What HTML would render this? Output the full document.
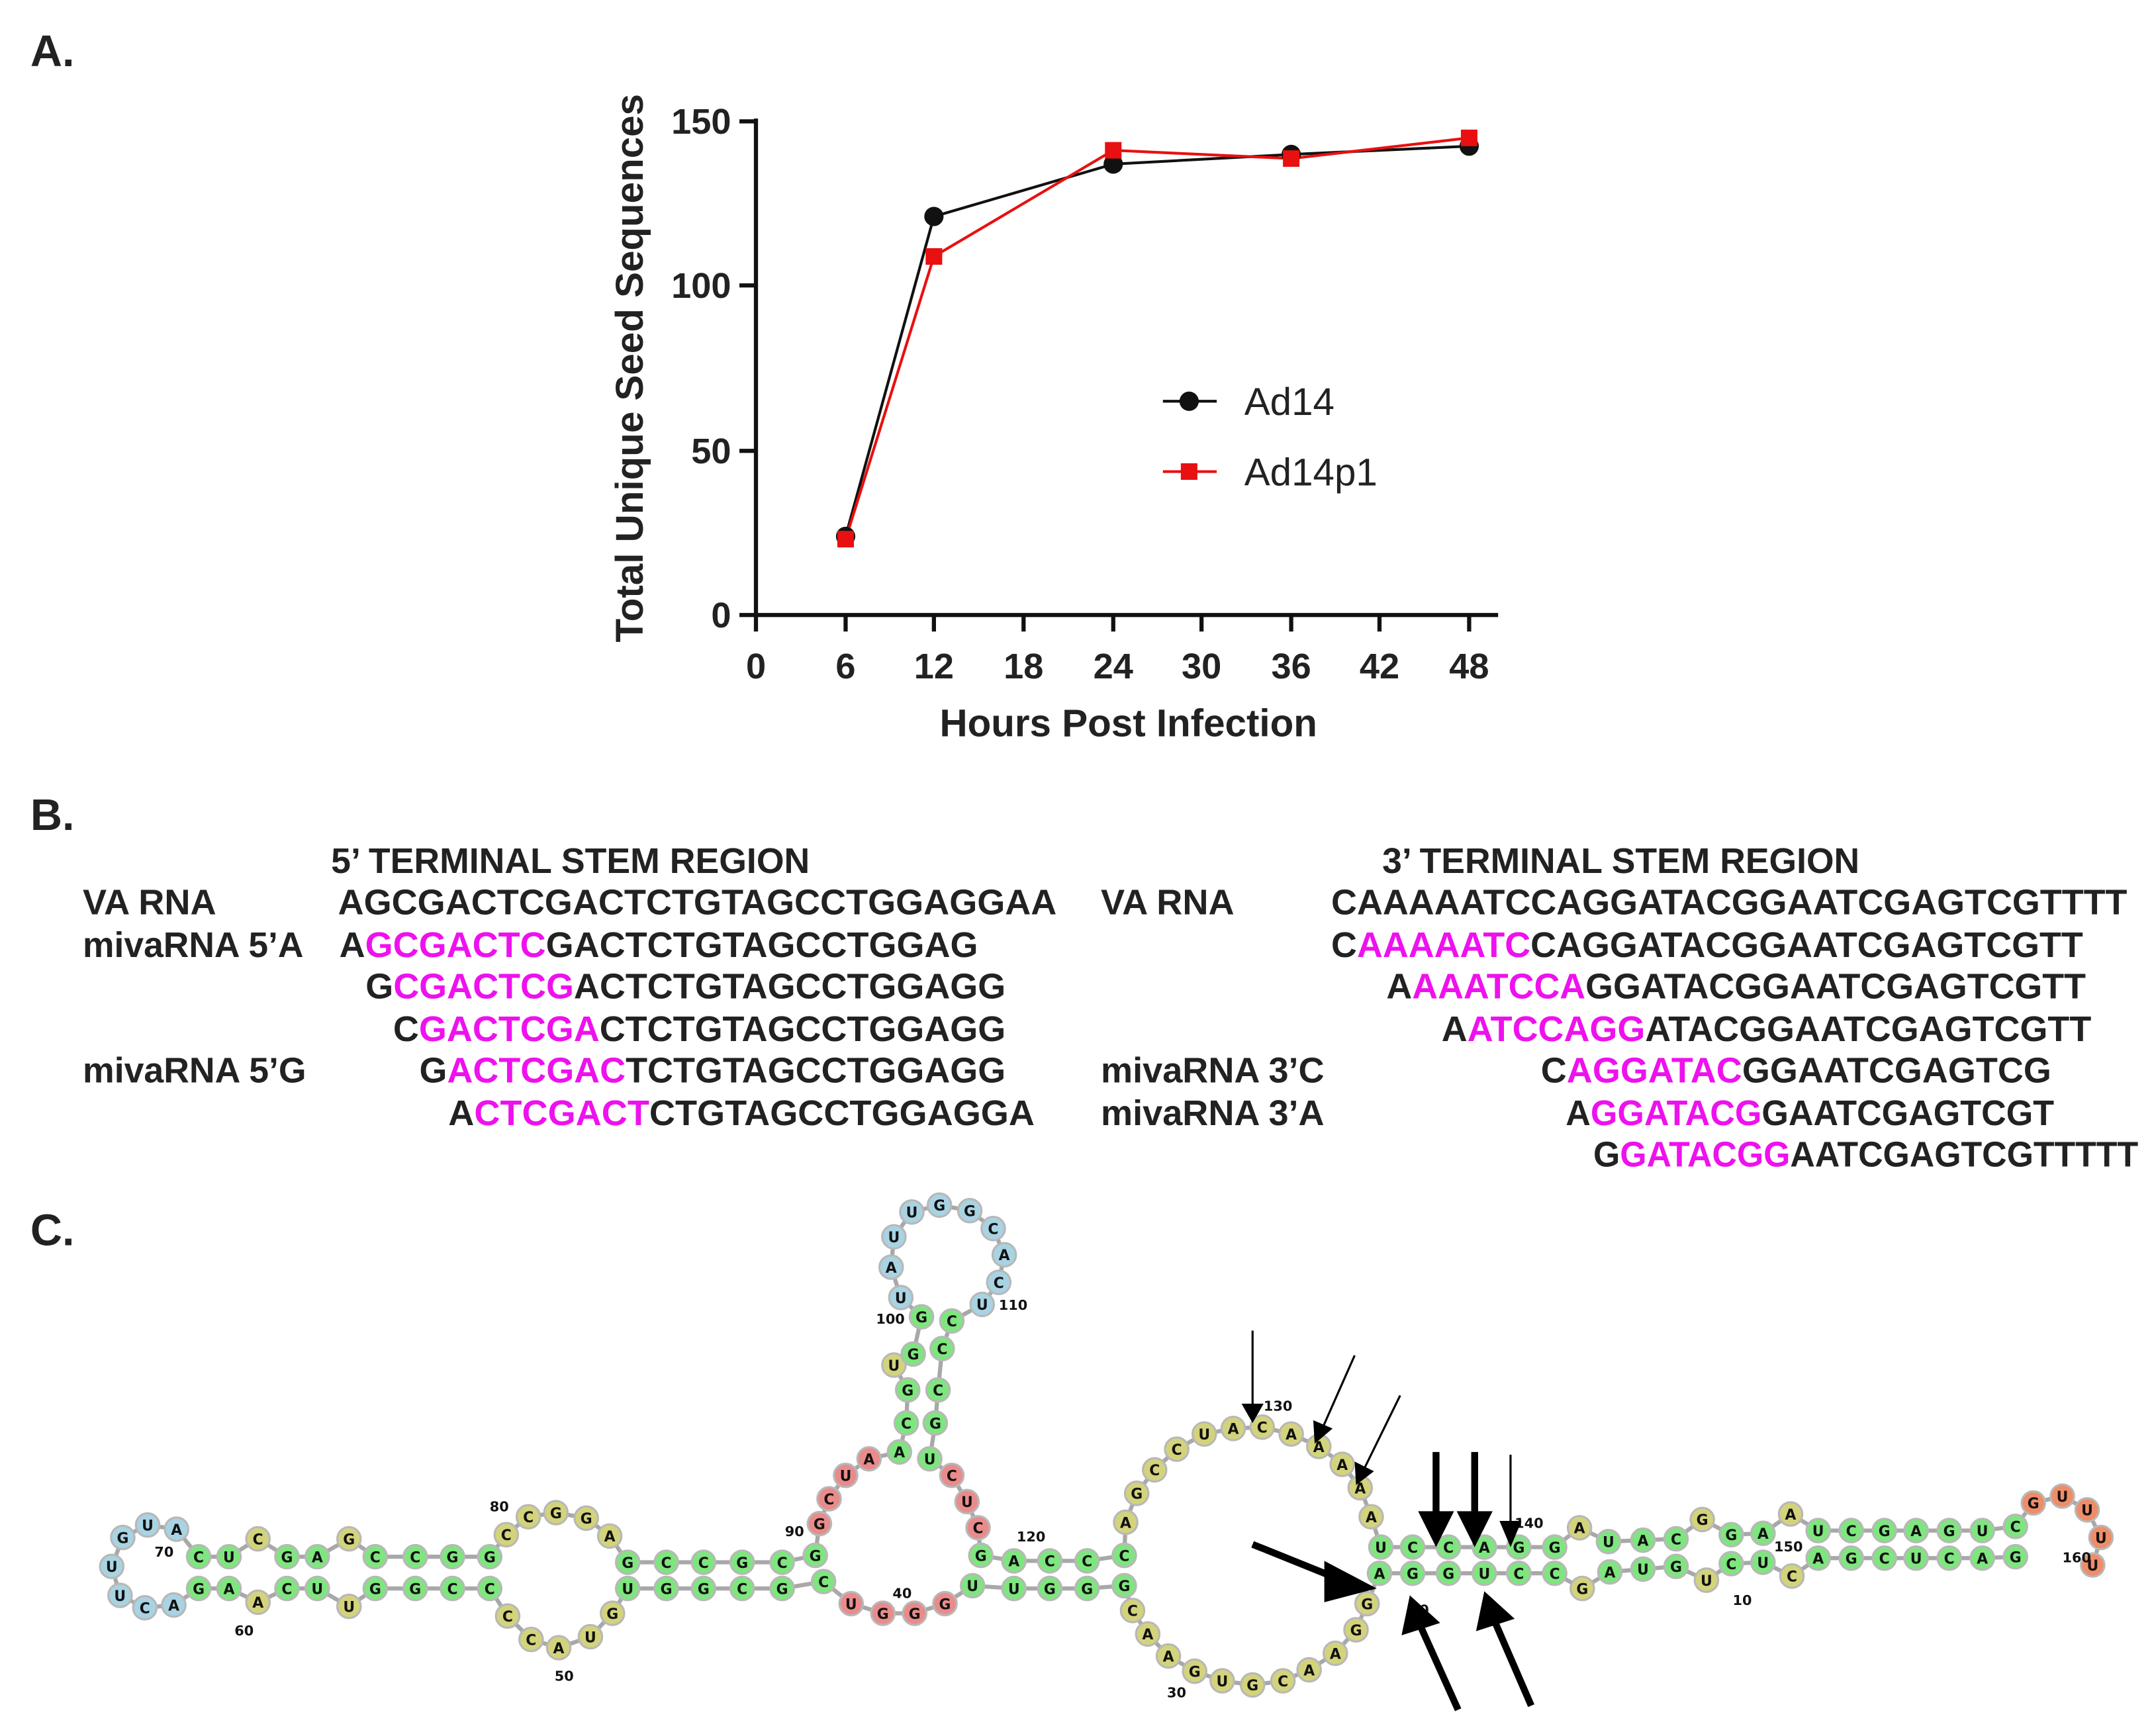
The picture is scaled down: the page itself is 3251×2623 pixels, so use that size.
<!DOCTYPE html>
<html><head><meta charset="utf-8"><style>
html,body{margin:0;padding:0;background:#fff}
svg{display:block}
.t{font-family:"Liberation Sans",sans-serif;font-weight:bold;fill:#222}
.s{font-family:"Liberation Sans",sans-serif;font-weight:bold;fill:#222;font-size:26px}
.m{fill:#ee11ee}
.n circle{stroke:#b8b8b8;stroke-width:1.5}
.n text{font-family:"DejaVu Sans","Liberation Sans",sans-serif;font-weight:bold;font-size:10.5px;text-anchor:middle;fill:#111}
.g{fill:#7fe57f}.y{fill:#d3d37c}.b{fill:#a8d3e2}.r{fill:#ea8b8b}.o{fill:#ee8d68}
.nl{font-family:"DejaVu Sans",sans-serif;font-weight:bold;font-size:10px;fill:#111}
</style></head><body>
<svg width="3251" height="2623" viewBox="0 0 1560 1259" preserveAspectRatio="none" xmlns="http://www.w3.org/2000/svg">
<text class="t" x="22" y="48" font-size="32">A.</text>
<text class="t" x="22" y="602" font-size="32">B.</text>
<text class="t" x="22" y="903" font-size="32">C.</text>

<g stroke="#111" stroke-width="3" fill="none">
<line x1="548" y1="86" x2="548" y2="447"/>
<line x1="547" y1="446" x2="1086" y2="446"/>
<line x1="536" y1="88" x2="548" y2="88"/><line x1="536" y1="207" x2="548" y2="207"/>
<line x1="536" y1="327" x2="548" y2="327"/><line x1="536" y1="446" x2="548" y2="446"/>
<line x1="548" y1="446" x2="548" y2="458"/><line x1="613" y1="446" x2="613" y2="458"/>
<line x1="677" y1="446" x2="677" y2="458"/><line x1="742" y1="446" x2="742" y2="458"/>
<line x1="807" y1="446" x2="807" y2="458"/><line x1="871" y1="446" x2="871" y2="458"/>
<line x1="936" y1="446" x2="936" y2="458"/><line x1="1000" y1="446" x2="1000" y2="458"/>
<line x1="1065" y1="446" x2="1065" y2="458"/>
</g>
<g class="t" font-size="26" text-anchor="end">
<text x="530" y="97">150</text><text x="530" y="216">100</text><text x="530" y="336">50</text><text x="530" y="455">0</text>
</g>
<g class="t" font-size="26" text-anchor="middle">
<text x="548" y="492">0</text><text x="613" y="492">6</text><text x="677" y="492">12</text><text x="742" y="492">18</text>
<text x="807" y="492">24</text><text x="871" y="492">30</text><text x="936" y="492">36</text><text x="1000" y="492">42</text><text x="1065" y="492">48</text>
<text x="818" y="534" font-size="28">Hours Post Infection</text>
<text transform="translate(466,267) rotate(-90)" font-size="28">Total Unique Seed Sequences</text>
</g>
<polyline points="613,389 677,157 807,119 936,112 1065,106" fill="none" stroke="#111" stroke-width="2"/>
<polyline points="613,391 677,186 807,109 936,115 1065,100" fill="none" stroke="#e81010" stroke-width="2"/>
<g fill="#111"><circle cx="613" cy="389" r="7"/><circle cx="677" cy="157" r="7"/><circle cx="807" cy="119" r="7"/><circle cx="936" cy="112" r="7"/><circle cx="1065" cy="106" r="7"/></g>
<g fill="#e81010"><rect x="607" y="385" width="12" height="12"/><rect x="671" y="180" width="12" height="12"/><rect x="801" y="103" width="12" height="12"/><rect x="930" y="109" width="12" height="12"/><rect x="1059" y="94" width="12" height="12"/></g>
<line x1="843" y1="291" x2="882" y2="291" stroke="#111" stroke-width="2"/><circle cx="862" cy="291" r="7" fill="#111"/>
<text x="902" y="301" font-family="Liberation Sans,sans-serif" font-size="28" fill="#222">Ad14</text>
<line x1="843" y1="342" x2="882" y2="342" stroke="#e81010" stroke-width="2"/><rect x="856" y="336" width="12" height="12" fill="#e81010"/>
<text x="902" y="352" font-family="Liberation Sans,sans-serif" font-size="28" fill="#222">Ad14p1</text>

<g transform="translate(0,-3)">
<text class="s" x="240" y="636" textLength="347" lengthAdjust="spacingAndGlyphs">5’ TERMINAL STEM REGION</text>
<text class="s" x="1002" y="636" textLength="346" lengthAdjust="spacingAndGlyphs">3’ TERMINAL STEM REGION</text>
<text class="s" x="60" y="666">VA RNA</text>
<text class="s" x="60" y="697" textLength="160" lengthAdjust="spacingAndGlyphs">mivaRNA 5’A</text>
<text class="s" x="60" y="788" textLength="162" lengthAdjust="spacingAndGlyphs">mivaRNA 5’G</text>
<text class="s" x="798" y="666">VA RNA</text>
<text class="s" x="798" y="788" textLength="162" lengthAdjust="spacingAndGlyphs">mivaRNA 3’C</text>
<text class="s" x="798" y="819" textLength="162" lengthAdjust="spacingAndGlyphs">mivaRNA 3’A</text>

<text class="s" x="245" y="666" textLength="521" lengthAdjust="spacingAndGlyphs">AGCGACTCGACTCTGTAGCCTGGAGGAA</text>
<text class="s" x="246" y="697" textLength="463" lengthAdjust="spacingAndGlyphs">A<tspan class="m">GCGACTC</tspan>GACTCTGTAGCCTGGAG</text>
<text class="s" x="265" y="727" textLength="464" lengthAdjust="spacingAndGlyphs">G<tspan class="m">CGACTCG</tspan>ACTCTGTAGCCTGGAGG</text>
<text class="s" x="285" y="758" textLength="444" lengthAdjust="spacingAndGlyphs">C<tspan class="m">GACTCGA</tspan>CTCTGTAGCCTGGAGG</text>
<text class="s" x="304" y="788" textLength="425" lengthAdjust="spacingAndGlyphs">G<tspan class="m">ACTCGAC</tspan>TCTGTAGCCTGGAGG</text>
<text class="s" x="325" y="819" textLength="425" lengthAdjust="spacingAndGlyphs">A<tspan class="m">CTCGACT</tspan>CTGTAGCCTGGAGGA</text>

<text class="s" x="965" y="666" textLength="577" lengthAdjust="spacingAndGlyphs">CAAAAATCCAGGATACGGAATCGAGTCGTTTT</text>
<text class="s" x="965" y="697" textLength="545" lengthAdjust="spacingAndGlyphs">C<tspan class="m">AAAAATC</tspan>CAGGATACGGAATCGAGTCGTT</text>
<text class="s" x="1005" y="727" textLength="507" lengthAdjust="spacingAndGlyphs">A<tspan class="m">AAATCCA</tspan>GGATACGGAATCGAGTCGTT</text>
<text class="s" x="1045" y="758" textLength="471" lengthAdjust="spacingAndGlyphs">A<tspan class="m">ATCCAGG</tspan>ATACGGAATCGAGTCGTT</text>
<text class="s" x="1117" y="788" textLength="370" lengthAdjust="spacingAndGlyphs">C<tspan class="m">AGGATAC</tspan>GGAATCGAGTCG</text>
<text class="s" x="1135" y="819" textLength="354" lengthAdjust="spacingAndGlyphs">A<tspan class="m">GGATACG</tspan>GAATCGAGTCGT</text>
<text class="s" x="1155" y="849" textLength="395" lengthAdjust="spacingAndGlyphs">G<tspan class="m">GATACGG</tspan>AATCGAGTCGTTTTT</text>
</g>

<g fill="none" stroke="#a8a8a8" stroke-width="3">
<polyline points="144,1129 128,1109 107,1106 89,1115 81,1136 87,1157 105,1166 126,1164 144,1152"/>
<polyline points="144,1129 166,1129 187,1116 208,1129 230,1129 253,1116 272,1129 301,1129 328,1129 355,1129 367,1113 383,1100 403,1097 425,1101 442,1114 455,1133 483,1133 510,1133 538,1133 567,1133 591,1128 594,1105 601,1087 613,1070 630,1058 652,1053 657,1032 658,1008 648,990 662,982 668,955 653,941 646,919 648,897 661,879 681,874 703,878 720,891 728,910 724,930 712,946 690,958 683,978 680,1008 678,1032 674,1058 690,1070 701,1089 709,1108 711,1128 735,1132 761,1132 788,1132 815,1128 816,1104 824,1083 837,1066 853,1051 873,1040 894,1036 915,1035 936,1040 956,1049 973,1062 986,1079 994,1100 1001,1122 1024,1122 1050,1122 1076,1122 1101,1122 1127,1122 1145,1108 1166,1118 1191,1117 1215,1116 1234,1102 1255,1113 1278,1112 1298,1098 1318,1110 1342,1110 1366,1110 1389,1110 1413,1110 1437,1110 1461,1107 1474,1090 1495,1085 1513,1095 1523,1115 1517,1135"/>
<polyline points="144,1152 166,1152 187,1162 208,1152 230,1152 253,1165 272,1152 301,1152 328,1152 355,1152 368,1172 385,1189 405,1195 428,1187 444,1170 455,1152 483,1152 510,1152 538,1152 567,1152 597,1147 617,1163 640,1170 663,1170 685,1163 705,1150 735,1152 761,1152 788,1152 815,1150 821,1168 832,1185 847,1201 866,1212 886,1219 908,1222 930,1219 949,1211 968,1199 983,1182 991,1163 1000,1141 1024,1141 1050,1141 1076,1141 1101,1141 1127,1141 1147,1152 1167,1140 1191,1138 1215,1136 1237,1146 1255,1134 1278,1133 1299,1143 1318,1130 1342,1130 1366,1130 1389,1130 1413,1130 1437,1130 1461,1129"/>
</g>

<g class="n">
<circle class="b" cx="89" cy="1115" r="8.5"/><text x="89" y="1119">G</text>
<circle class="b" cx="107" cy="1106" r="8.5"/><text x="107" y="1110">U</text>
<circle class="b" cx="128" cy="1109" r="8.5"/><text x="128" y="1113">A</text>
<circle class="b" cx="81" cy="1136" r="8.5"/><text x="81" y="1140">U</text>
<circle class="b" cx="87" cy="1157" r="8.5"/><text x="87" y="1161">U</text>
<circle class="b" cx="105" cy="1166" r="8.5"/><text x="105" y="1170">C</text>
<circle class="b" cx="126" cy="1164" r="8.5"/><text x="126" y="1168">A</text>
<circle class="g" cx="144" cy="1129" r="8.5"/><text x="144" y="1133">C</text>
<circle class="g" cx="166" cy="1129" r="8.5"/><text x="166" y="1133">U</text>
<circle class="y" cx="187" cy="1116" r="8.5"/><text x="187" y="1120">C</text>
<circle class="g" cx="208" cy="1129" r="8.5"/><text x="208" y="1133">G</text>
<circle class="g" cx="230" cy="1129" r="8.5"/><text x="230" y="1133">A</text>
<circle class="y" cx="253" cy="1116" r="8.5"/><text x="253" y="1120">G</text>
<circle class="g" cx="272" cy="1129" r="8.5"/><text x="272" y="1133">C</text>
<circle class="g" cx="301" cy="1129" r="8.5"/><text x="301" y="1133">C</text>
<circle class="g" cx="328" cy="1129" r="8.5"/><text x="328" y="1133">G</text>
<circle class="g" cx="355" cy="1129" r="8.5"/><text x="355" y="1133">G</text>
<circle class="g" cx="144" cy="1152" r="8.5"/><text x="144" y="1156">G</text>
<circle class="g" cx="166" cy="1152" r="8.5"/><text x="166" y="1156">A</text>
<circle class="y" cx="187" cy="1162" r="8.5"/><text x="187" y="1166">A</text>
<circle class="g" cx="208" cy="1152" r="8.5"/><text x="208" y="1156">C</text>
<circle class="g" cx="230" cy="1152" r="8.5"/><text x="230" y="1156">U</text>
<circle class="y" cx="253" cy="1165" r="8.5"/><text x="253" y="1169">U</text>
<circle class="g" cx="272" cy="1152" r="8.5"/><text x="272" y="1156">G</text>
<circle class="g" cx="301" cy="1152" r="8.5"/><text x="301" y="1156">G</text>
<circle class="g" cx="328" cy="1152" r="8.5"/><text x="328" y="1156">C</text>
<circle class="g" cx="355" cy="1152" r="8.5"/><text x="355" y="1156">C</text>
<circle class="y" cx="367" cy="1113" r="8.5"/><text x="367" y="1117">C</text>
<circle class="y" cx="383" cy="1100" r="8.5"/><text x="383" y="1104">C</text>
<circle class="y" cx="403" cy="1097" r="8.5"/><text x="403" y="1101">G</text>
<circle class="y" cx="425" cy="1101" r="8.5"/><text x="425" y="1105">G</text>
<circle class="y" cx="442" cy="1114" r="8.5"/><text x="442" y="1118">A</text>
<circle class="y" cx="368" cy="1172" r="8.5"/><text x="368" y="1176">C</text>
<circle class="y" cx="385" cy="1189" r="8.5"/><text x="385" y="1193">C</text>
<circle class="y" cx="405" cy="1195" r="8.5"/><text x="405" y="1199">A</text>
<circle class="y" cx="428" cy="1187" r="8.5"/><text x="428" y="1191">U</text>
<circle class="y" cx="444" cy="1170" r="8.5"/><text x="444" y="1174">G</text>
<circle class="g" cx="455" cy="1133" r="8.5"/><text x="455" y="1137">G</text>
<circle class="g" cx="483" cy="1133" r="8.5"/><text x="483" y="1137">C</text>
<circle class="g" cx="510" cy="1133" r="8.5"/><text x="510" y="1137">C</text>
<circle class="g" cx="538" cy="1133" r="8.5"/><text x="538" y="1137">G</text>
<circle class="g" cx="567" cy="1133" r="8.5"/><text x="567" y="1137">C</text>
<circle class="g" cx="591" cy="1128" r="8.5"/><text x="591" y="1132">G</text>
<circle class="g" cx="455" cy="1152" r="8.5"/><text x="455" y="1156">U</text>
<circle class="g" cx="483" cy="1152" r="8.5"/><text x="483" y="1156">G</text>
<circle class="g" cx="510" cy="1152" r="8.5"/><text x="510" y="1156">G</text>
<circle class="g" cx="538" cy="1152" r="8.5"/><text x="538" y="1156">C</text>
<circle class="g" cx="567" cy="1152" r="8.5"/><text x="567" y="1156">G</text>
<circle class="g" cx="597" cy="1147" r="8.5"/><text x="597" y="1151">C</text>
<circle class="r" cx="594" cy="1105" r="8.5"/><text x="594" y="1109">G</text>
<circle class="r" cx="601" cy="1087" r="8.5"/><text x="601" y="1091">C</text>
<circle class="r" cx="613" cy="1070" r="8.5"/><text x="613" y="1074">U</text>
<circle class="r" cx="630" cy="1058" r="8.5"/><text x="630" y="1062">A</text>
<circle class="r" cx="690" cy="1070" r="8.5"/><text x="690" y="1074">C</text>
<circle class="r" cx="701" cy="1089" r="8.5"/><text x="701" y="1093">U</text>
<circle class="r" cx="709" cy="1108" r="8.5"/><text x="709" y="1112">C</text>
<circle class="r" cx="617" cy="1163" r="8.5"/><text x="617" y="1167">U</text>
<circle class="r" cx="640" cy="1170" r="8.5"/><text x="640" y="1174">G</text>
<circle class="r" cx="663" cy="1170" r="8.5"/><text x="663" y="1174">G</text>
<circle class="r" cx="685" cy="1163" r="8.5"/><text x="685" y="1167">G</text>
<circle class="g" cx="652" cy="1053" r="8.5"/><text x="652" y="1057">A</text>
<circle class="g" cx="674" cy="1058" r="8.5"/><text x="674" y="1062">U</text>
<circle class="g" cx="657" cy="1032" r="8.5"/><text x="657" y="1036">C</text>
<circle class="g" cx="678" cy="1032" r="8.5"/><text x="678" y="1036">G</text>
<circle class="g" cx="658" cy="1008" r="8.5"/><text x="658" y="1012">G</text>
<circle class="g" cx="680" cy="1008" r="8.5"/><text x="680" y="1012">C</text>
<circle class="y" cx="648" cy="990" r="8.5"/><text x="648" y="994">U</text>
<circle class="g" cx="662" cy="982" r="8.5"/><text x="662" y="986">G</text>
<circle class="g" cx="683" cy="978" r="8.5"/><text x="683" y="982">C</text>
<circle class="g" cx="668" cy="955" r="8.5"/><text x="668" y="959">G</text>
<circle class="g" cx="690" cy="958" r="8.5"/><text x="690" y="962">C</text>
<circle class="b" cx="653" cy="941" r="8.5"/><text x="653" y="945">U</text>
<circle class="b" cx="646" cy="919" r="8.5"/><text x="646" y="923">A</text>
<circle class="b" cx="648" cy="897" r="8.5"/><text x="648" y="901">U</text>
<circle class="b" cx="661" cy="879" r="8.5"/><text x="661" y="883">U</text>
<circle class="b" cx="681" cy="874" r="8.5"/><text x="681" y="878">G</text>
<circle class="b" cx="703" cy="878" r="8.5"/><text x="703" y="882">G</text>
<circle class="b" cx="720" cy="891" r="8.5"/><text x="720" y="895">C</text>
<circle class="b" cx="728" cy="910" r="8.5"/><text x="728" y="914">A</text>
<circle class="b" cx="724" cy="930" r="8.5"/><text x="724" y="934">C</text>
<circle class="b" cx="712" cy="946" r="8.5"/><text x="712" y="950">U</text>
<circle class="g" cx="711" cy="1128" r="8.5"/><text x="711" y="1132">G</text>
<circle class="g" cx="735" cy="1132" r="8.5"/><text x="735" y="1136">A</text>
<circle class="g" cx="761" cy="1132" r="8.5"/><text x="761" y="1136">C</text>
<circle class="g" cx="788" cy="1132" r="8.5"/><text x="788" y="1136">C</text>
<circle class="g" cx="815" cy="1128" r="8.5"/><text x="815" y="1132">C</text>
<circle class="g" cx="705" cy="1150" r="8.5"/><text x="705" y="1154">U</text>
<circle class="g" cx="735" cy="1152" r="8.5"/><text x="735" y="1156">U</text>
<circle class="g" cx="761" cy="1152" r="8.5"/><text x="761" y="1156">G</text>
<circle class="g" cx="788" cy="1152" r="8.5"/><text x="788" y="1156">G</text>
<circle class="g" cx="815" cy="1150" r="8.5"/><text x="815" y="1154">G</text>
<circle class="y" cx="816" cy="1104" r="8.5"/><text x="816" y="1108">A</text>
<circle class="y" cx="824" cy="1083" r="8.5"/><text x="824" y="1087">G</text>
<circle class="y" cx="837" cy="1066" r="8.5"/><text x="837" y="1070">C</text>
<circle class="y" cx="853" cy="1051" r="8.5"/><text x="853" y="1055">C</text>
<circle class="y" cx="873" cy="1040" r="8.5"/><text x="873" y="1044">U</text>
<circle class="y" cx="894" cy="1036" r="8.5"/><text x="894" y="1040">A</text>
<circle class="y" cx="915" cy="1035" r="8.5"/><text x="915" y="1039">C</text>
<circle class="y" cx="936" cy="1040" r="8.5"/><text x="936" y="1044">A</text>
<circle class="y" cx="956" cy="1049" r="8.5"/><text x="956" y="1053">A</text>
<circle class="y" cx="973" cy="1062" r="8.5"/><text x="973" y="1066">A</text>
<circle class="y" cx="986" cy="1079" r="8.5"/><text x="986" y="1083">A</text>
<circle class="y" cx="994" cy="1100" r="8.5"/><text x="994" y="1104">A</text>
<circle class="y" cx="821" cy="1168" r="8.5"/><text x="821" y="1172">C</text>
<circle class="y" cx="832" cy="1185" r="8.5"/><text x="832" y="1189">A</text>
<circle class="y" cx="847" cy="1201" r="8.5"/><text x="847" y="1205">A</text>
<circle class="y" cx="866" cy="1212" r="8.5"/><text x="866" y="1216">G</text>
<circle class="y" cx="886" cy="1219" r="8.5"/><text x="886" y="1223">U</text>
<circle class="y" cx="908" cy="1222" r="8.5"/><text x="908" y="1226">G</text>
<circle class="y" cx="930" cy="1219" r="8.5"/><text x="930" y="1223">C</text>
<circle class="y" cx="949" cy="1211" r="8.5"/><text x="949" y="1215">A</text>
<circle class="y" cx="968" cy="1199" r="8.5"/><text x="968" y="1203">A</text>
<circle class="y" cx="983" cy="1182" r="8.5"/><text x="983" y="1186">G</text>
<circle class="y" cx="991" cy="1163" r="8.5"/><text x="991" y="1167">G</text>
<circle class="g" cx="1001" cy="1122" r="8.5"/><text x="1001" y="1126">U</text>
<circle class="g" cx="1024" cy="1122" r="8.5"/><text x="1024" y="1126">C</text>
<circle class="g" cx="1050" cy="1122" r="8.5"/><text x="1050" y="1126">C</text>
<circle class="g" cx="1076" cy="1122" r="8.5"/><text x="1076" y="1126">A</text>
<circle class="g" cx="1101" cy="1122" r="8.5"/><text x="1101" y="1126">G</text>
<circle class="g" cx="1127" cy="1122" r="8.5"/><text x="1127" y="1126">G</text>
<circle class="g" cx="1000" cy="1141" r="8.5"/><text x="1000" y="1145">A</text>
<circle class="g" cx="1024" cy="1141" r="8.5"/><text x="1024" y="1145">G</text>
<circle class="g" cx="1050" cy="1141" r="8.5"/><text x="1050" y="1145">G</text>
<circle class="g" cx="1076" cy="1141" r="8.5"/><text x="1076" y="1145">U</text>
<circle class="g" cx="1101" cy="1141" r="8.5"/><text x="1101" y="1145">C</text>
<circle class="g" cx="1127" cy="1141" r="8.5"/><text x="1127" y="1145">C</text>
<circle class="y" cx="1145" cy="1108" r="8.5"/><text x="1145" y="1112">A</text>
<circle class="y" cx="1147" cy="1152" r="8.5"/><text x="1147" y="1156">G</text>
<circle class="g" cx="1166" cy="1118" r="8.5"/><text x="1166" y="1122">U</text>
<circle class="g" cx="1191" cy="1117" r="8.5"/><text x="1191" y="1121">A</text>
<circle class="g" cx="1215" cy="1116" r="8.5"/><text x="1215" y="1120">C</text>
<circle class="g" cx="1167" cy="1140" r="8.5"/><text x="1167" y="1144">A</text>
<circle class="g" cx="1191" cy="1138" r="8.5"/><text x="1191" y="1142">U</text>
<circle class="g" cx="1215" cy="1136" r="8.5"/><text x="1215" y="1140">G</text>
<circle class="y" cx="1234" cy="1102" r="8.5"/><text x="1234" y="1106">G</text>
<circle class="y" cx="1237" cy="1146" r="8.5"/><text x="1237" y="1150">U</text>
<circle class="g" cx="1255" cy="1113" r="8.5"/><text x="1255" y="1117">G</text>
<circle class="g" cx="1278" cy="1112" r="8.5"/><text x="1278" y="1116">A</text>
<circle class="g" cx="1255" cy="1134" r="8.5"/><text x="1255" y="1138">C</text>
<circle class="g" cx="1278" cy="1133" r="8.5"/><text x="1278" y="1137">U</text>
<circle class="y" cx="1298" cy="1098" r="8.5"/><text x="1298" y="1102">A</text>
<circle class="y" cx="1299" cy="1143" r="8.5"/><text x="1299" y="1147">C</text>
<circle class="g" cx="1318" cy="1110" r="8.5"/><text x="1318" y="1114">U</text>
<circle class="g" cx="1342" cy="1110" r="8.5"/><text x="1342" y="1114">C</text>
<circle class="g" cx="1366" cy="1110" r="8.5"/><text x="1366" y="1114">G</text>
<circle class="g" cx="1389" cy="1110" r="8.5"/><text x="1389" y="1114">A</text>
<circle class="g" cx="1413" cy="1110" r="8.5"/><text x="1413" y="1114">G</text>
<circle class="g" cx="1437" cy="1110" r="8.5"/><text x="1437" y="1114">U</text>
<circle class="g" cx="1461" cy="1107" r="8.5"/><text x="1461" y="1111">C</text>
<circle class="g" cx="1318" cy="1130" r="8.5"/><text x="1318" y="1134">A</text>
<circle class="g" cx="1342" cy="1130" r="8.5"/><text x="1342" y="1134">G</text>
<circle class="g" cx="1366" cy="1130" r="8.5"/><text x="1366" y="1134">C</text>
<circle class="g" cx="1389" cy="1130" r="8.5"/><text x="1389" y="1134">U</text>
<circle class="g" cx="1413" cy="1130" r="8.5"/><text x="1413" y="1134">C</text>
<circle class="g" cx="1437" cy="1130" r="8.5"/><text x="1437" y="1134">A</text>
<circle class="g" cx="1461" cy="1129" r="8.5"/><text x="1461" y="1133">G</text>
<circle class="o" cx="1474" cy="1090" r="8.5"/><text x="1474" y="1094">G</text>
<circle class="o" cx="1495" cy="1085" r="8.5"/><text x="1495" y="1089">U</text>
<circle class="o" cx="1513" cy="1095" r="8.5"/><text x="1513" y="1099">U</text>
<circle class="o" cx="1523" cy="1115" r="8.5"/><text x="1523" y="1119">U</text>
<circle class="o" cx="1517" cy="1135" r="8.5"/><text x="1517" y="1139">U</text>
</g>
<g class="nl">
<text x="112" y="1129">70</text><text x="170" y="1186">60</text><text x="355" y="1096">80</text>
<text x="402" y="1219">50</text><text x="569" y="1114">90</text><text x="647" y="1159">40</text>
<text x="635" y="960">100</text><text x="724" y="950">110</text><text x="737" y="1118">120</text>
<text x="916" y="1023">130</text><text x="1098" y="1108">140</text><text x="1286" y="1125">150</text>
<text x="1495" y="1133">160</text><text x="1256" y="1164">10</text><text x="1022" y="1171">20</text><text x="846" y="1231">30</text>
</g>
<g stroke="#000" fill="none">
<line x1="908" y1="965" x2="908" y2="1020" stroke-width="1.5"/>
<line x1="982" y1="983" x2="959" y2="1035" stroke-width="1.5"/>
<line x1="1015" y1="1012" x2="989" y2="1065" stroke-width="1.5"/>
<line x1="1041" y1="1053" x2="1041" y2="1100" stroke-width="5"/>
<line x1="1069" y1="1053" x2="1069" y2="1100" stroke-width="5"/>
<line x1="1095" y1="1055" x2="1095" y2="1105" stroke-width="1.5"/>
<line x1="908" y1="1120" x2="970" y2="1145" stroke-width="5"/>
<line x1="1057" y1="1240" x2="1030" y2="1180" stroke-width="5"/>
<line x1="1110" y1="1237" x2="1084" y2="1177" stroke-width="5"/>
</g>
<g fill="#000">
<polygon points="900,1018 916,1018 908,1032"/>
<polygon points="952,1030 966,1036 953,1047"/>
<polygon points="982,1060 996,1067 983,1077"/>
<polygon points="1028,1096 1054,1096 1041,1122"/>
<polygon points="1056,1096 1082,1096 1069,1122"/>
<polygon points="1087,1103 1103,1103 1095,1122"/>
<polygon points="960,1132 998,1152 960,1162"/>
<polygon points="1016,1186 1044,1177 1022,1157"/>
<polygon points="1070,1183 1098,1174 1076,1154"/>
</g>
</svg>
</body></html>
